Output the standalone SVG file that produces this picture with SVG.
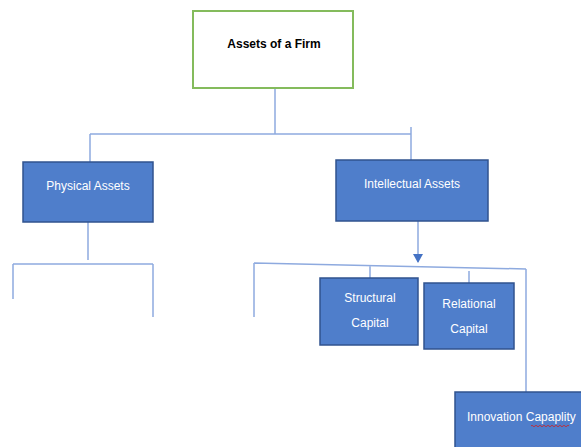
<svg xmlns="http://www.w3.org/2000/svg" width="581" height="447" viewBox="0 0 581 447">
<style>
.box{fill:#4f7ecb;stroke:#30538f;stroke-width:1.5}
.t{font-family:"Liberation Sans",Arial,sans-serif;font-size:12px;fill:#ffffff;text-anchor:middle}
.ln{stroke:#8eaadf;stroke-width:1.5;fill:none}
</style>
<defs>
<marker id="arr" markerWidth="10" markerHeight="10" refX="8" refY="5" orient="auto" markerUnits="userSpaceOnUse">
<path d="M0,0 L9,5 L0,10 Z" fill="#4472c4"/>
</marker>
</defs>
<rect width="581" height="447" fill="#ffffff"/>
<g id="connectors">
<path class="ln" d="M275,88 V134 M90,134 H411 M90,134 V162 M411,127 V160"/>
<path class="ln" d="M88,222 V260 M13,264 H153 M13,264 V299 M153,264 V317"/>
<path class="ln" d="M418,221 V262" marker-end="url(#arr)"/>
<path class="ln" d="M254,263 L526,269 M254,263 V317 M526,269 V392 M370,265 V278 M469,271 V283"/>
</g>
<g id="assets-firm">
<rect x="193" y="11" width="160" height="77" fill="#ffffff" stroke="#84bb5c" stroke-width="2"/>
<text x="274" y="48" font-family="'Liberation Sans',Arial,sans-serif" font-size="12" font-weight="bold" fill="#000" text-anchor="middle">Assets of a Firm</text>
</g>
<g id="physical-assets">
<rect class="box" x="23" y="162" width="130" height="60"/>
<text class="t" x="88" y="190">Physical Assets</text>
</g>
<g id="intellectual-assets">
<rect class="box" x="336" y="160" width="152" height="61"/>
<text class="t" x="412" y="188">Intellectual Assets</text>
</g>
<g id="structural-capital">
<rect class="box" x="320" y="278" width="98" height="67"/>
<text class="t" x="370" y="302">Structural</text>
<text class="t" x="370" y="327">Capital</text>
</g>
<g id="relational-capital">
<rect class="box" x="424" y="283" width="90" height="66"/>
<text class="t" x="469" y="308">Relational</text>
<text class="t" x="469" y="333">Capital</text>
</g>
<g id="innovation-capability">
<rect class="box" x="455" y="392" width="130" height="60"/>
<text x="467" y="421" font-family="'Liberation Sans',Arial,sans-serif" font-size="12" fill="#ffffff">Innovation Capaplity</text>
<path d="M531,426 q1,-1.5 2,0 t2,0 t2,0 t2,0 t2,0 t2,0 t2,0 t2,0 t2,0 t2,0 t2,0 t2,0 t2,0 t2,0 t2,0 t2,0 t2,0 t2,0 t2,0" fill="none" stroke="#d02020" stroke-width="0.8"/>
</g>
</svg>
